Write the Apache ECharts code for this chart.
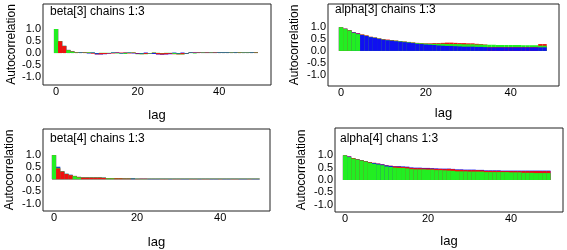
<!DOCTYPE html>
<html>
<head>
<meta charset="utf-8">
<script src="https://cdn.jsdelivr.net/npm/echarts@6/dist/echarts.min.js"></script>
<style>
  html, body { margin: 0; padding: 0; background: #fff; }
  #chart { width: 567px; height: 250px; }
</style>
</head>
<body>
<div id="chart"></div>
<script>
// lags shown in each panel
const lags50 = [0,1,2,3,4,5,6,7,8,9,10,11,12,13,14,15,16,17,18,19,20,21,22,23,24,25,26,27,28,29,30,31,32,33,34,35,36,37,38,39,40,41,42,43,44,45,46,47,48,49];
const lags49 = [0,1,2,3,4,5,6,7,8,9,10,11,12,13,14,15,16,17,18,19,20,21,22,23,24,25,26,27,28,29,30,31,32,33,34,35,36,37,38,39,40,41,42,43,44,45,46,47,48];

const yTicks = [-1, -0.5, 0, 0.5, 1];
const xTicks = [0, 20, 40];

// chain 1 = blue, chain 2 = red, chain 3 = green
const chainColors = ['#1010f0', '#f01010', '#22ee22'];

// beta[3]
const beta3Chain1 = [1.00,0.50,0.30,0.13,0.07,0.03,0.02,0.03,-0.02,0.02,-0.05,-0.06,-0.05,-0.03,0.02,0.03,-0.02,0.02,0.03,-0.02,-0.02,-0.02,0.02,-0.02,-0.04,-0.06,-0.07,-0.06,-0.05,0.02,-0.02,0.02,-0.02,0.02,0.03,0.02,0.03,0.02,0.03,0.02,0.02,0.02,0.02,0.03,0.02,0.03,0.02,0.02,0.02,0.03];
const beta3Chain2 = [1.00,0.49,0.29,0.13,0.07,0.03,0.03,0.02,0.03,-0.03,-0.06,-0.05,-0.04,-0.02,-0.02,0.02,0.02,0.02,-0.02,0.02,-0.04,-0.05,-0.04,-0.03,0.02,-0.05,-0.06,-0.05,-0.03,-0.05,-0.06,-0.05,-0.04,0.03,0.02,0.02,0.02,0.02,0.02,0.02,0.03,0.03,0.03,0.02,0.03,0.03,0.03,0.03,0.03,0.02];
const beta3Chain3 = [1.00,0.50,0.30,0.12,0.06,0.02,0.03,0.03,0.03,0.03,-0.01,0.01,0.01,0.01,0.03,-0.02,-0.03,-0.04,0.02,0.03,-0.05,-0.05,-0.05,-0.02,0.02,0.01,-0.01,0.01,0.01,-0.04,-0.05,-0.06,-0.03,0.03,-0.02,0.03,0.02,0.03,0.02,0.03,0.03,0.03,0.03,0.02,0.03,0.02,0.02,0.02,0.03,0.03];

// alpha[3]
const alpha3Chain1 = [1.00,0.94,0.87,0.78,0.73,0.67,0.63,0.58,0.55,0.51,0.47,0.45,0.43,0.41,0.39,0.37,0.35,0.33,0.30,0.29,0.27,0.26,0.25,0.23,0.22,0.21,0.21,0.20,0.19,0.18,0.18,0.18,0.17,0.17,0.16,0.15,0.15,0.15,0.15,0.15,0.15,0.15,0.15,0.15,0.15,0.15,0.15,0.15,0.15];
const alpha3Chain2 = [1.00,0.94,0.87,0.79,0.75,0.70,0.66,0.60,0.57,0.53,0.50,0.48,0.46,0.44,0.42,0.40,0.38,0.36,0.34,0.33,0.32,0.32,0.33,0.33,0.34,0.35,0.35,0.34,0.33,0.33,0.32,0.32,0.30,0.29,0.27,0.16,0.16,0.16,0.16,0.16,0.16,0.16,0.16,0.16,0.16,0.16,0.16,0.29,0.29];
const alpha3Chain3 = [1.00,0.93,0.86,0.76,0.71,0.68,0.64,0.59,0.56,0.52,0.48,0.46,0.44,0.43,0.41,0.39,0.37,0.35,0.33,0.32,0.31,0.30,0.30,0.30,0.30,0.29,0.29,0.29,0.29,0.28,0.28,0.28,0.27,0.27,0.26,0.26,0.26,0.25,0.25,0.25,0.25,0.25,0.25,0.24,0.24,0.24,0.24,0.22,0.22];

// beta[4]
const beta4Chain1 = [1.00,0.52,0.33,0.23,0.19,0.14,0.10,0.08,0.08,0.08,0.08,0.08,0.07,0.05,0.05,0.05,0.05,0.04,0.04,0.03,0.03,0.03,0.03,0.02,0.02,0.02,0.03,0.03,0.02,0.03,0.03,0.02,0.02,0.03,0.03,0.02,0.03,0.03,0.02,0.02,0.03,0.02,0.02,0.03,0.03,0.02,0.02,0.03,0.02,0.02];
const beta4Chain2 = [1.00,0.45,0.32,0.22,0.17,0.14,0.10,0.07,0.07,0.07,0.07,0.07,0.06,0.05,0.05,0.04,0.04,0.03,0.03,0.04,0.02,0.03,0.03,0.03,0.03,0.03,0.02,0.02,0.03,0.02,0.02,0.03,0.03,0.02,0.02,0.03,0.02,0.02,0.03,0.03,0.02,0.03,0.03,0.02,0.02,0.03,0.03,0.02,0.03,0.03];
const beta4Chain3 = [1.00,0.48,0.33,0.23,0.18,0.13,0.08,0.08,0.08,0.08,0.08,0.08,0.07,0.04,0.04,0.05,0.05,0.04,0.04,0.04,0.03,0.02,0.02,0.03,0.03,0.03,0.03,0.03,0.03,0.03,0.03,0.03,0.03,0.03,0.03,0.03,0.03,0.03,0.03,0.03,0.03,0.03,0.03,0.03,0.03,0.03,0.03,0.03,0.03,0.03];

// alpha[4]
const alpha4Chain1 = [1.00,0.95,0.89,0.85,0.81,0.77,0.73,0.69,0.66,0.63,0.59,0.57,0.56,0.56,0.55,0.54,0.51,0.50,0.50,0.49,0.49,0.48,0.47,0.46,0.46,0.46,0.45,0.43,0.43,0.42,0.42,0.42,0.41,0.41,0.39,0.39,0.39,0.39,0.38,0.38,0.38,0.38,0.38,0.38,0.38,0.38,0.38,0.38,0.38,0.38];
const alpha4Chain2 = [1.00,0.96,0.89,0.84,0.80,0.76,0.72,0.70,0.67,0.64,0.60,0.58,0.55,0.54,0.53,0.52,0.49,0.48,0.48,0.47,0.47,0.46,0.45,0.45,0.44,0.45,0.44,0.41,0.41,0.40,0.40,0.40,0.40,0.39,0.37,0.37,0.37,0.37,0.36,0.36,0.36,0.36,0.36,0.36,0.36,0.36,0.36,0.36,0.36,0.36];
const alpha4Chain3 = [1.00,0.93,0.87,0.83,0.79,0.75,0.70,0.66,0.63,0.60,0.55,0.53,0.50,0.49,0.49,0.47,0.44,0.43,0.43,0.43,0.42,0.42,0.40,0.40,0.39,0.38,0.37,0.35,0.35,0.35,0.34,0.34,0.34,0.34,0.32,0.32,0.32,0.32,0.32,0.32,0.31,0.31,0.31,0.29,0.29,0.29,0.28,0.28,0.28,0.28];

const panels = [
  { title: 'beta[3] chains 1:3', lags: lags50, chains: [beta3Chain1, beta3Chain2, beta3Chain3],
    grid: { left: 43, top: 4, width: 228, height: 81 }, yRange: [-1.33, 2.04], xRange: [-3.2, 52.7],
    titlePos: [50, 6], lagGap: 24, acGap: 25, barW: 4.2 },
  { title: 'alpha[3] chains 1:3', lags: lags49, chains: [alpha3Chain1, alpha3Chain2, alpha3Chain3],
    grid: { left: 328, top: 4, width: 231, height: 82 }, yRange: [-1.48, 1.98], xRange: [-3.07, 51.4],
    titlePos: [335, 4], lagGap: 21, acGap: 27, barW: 4.3 },
  { title: 'beta[4] chains 1:3', lags: lags50, chains: [beta4Chain1, beta4Chain2, beta4Chain3],
    grid: { left: 43, top: 129, width: 227, height: 82 }, yRange: [-1.31, 2.08], xRange: [-2.65, 52.0],
    titlePos: [50, 133], lagGap: 25, acGap: 27, barW: 4.2 },
  { title: 'alpha[4] chans 1:3', lags: lags50, chains: [alpha4Chain1, alpha4Chain2, alpha4Chain3],
    grid: { left: 335, top: 128, width: 228, height: 84 }, yRange: [-1.30, 2.11], xRange: [-2.41, 52.5],
    titlePos: [340, 133], lagGap: 23, acGap: 27, barW: 4.2 }
];

// bars of the 3 chains overlap; the largest is drawn first, the smallest on top
function layers(lags, chains) {
  const out = [[], [], []];
  lags.forEach((lag, i) => {
    const order = [0, 1, 2].sort((a, b) => Math.abs(chains[b][i]) - Math.abs(chains[a][i]) || a - b);
    order.forEach((c, k) => {
      out[k].push({ value: [lag, chains[c][i]], itemStyle: { color: chainColors[c] } });
    });
  });
  return out;
}

const font = 'Liberation Sans';
const textColor = '#000';

const option = {
  animation: false,
  backgroundColor: '#fff',
  title: [],
  grid: [],
  xAxis: [],
  yAxis: [],
  series: []
};

panels.forEach((p, gi) => {
  option.title.push({
    text: p.title, left: p.titlePos[0], top: p.titlePos[1], padding: 0,
    textStyle: { fontFamily: font, fontSize: 12, fontWeight: 'normal', color: textColor }
  });
  option.grid.push(Object.assign({ show: true, borderColor: '#222', borderWidth: 1, backgroundColor: '#fff' }, p.grid));
  option.xAxis.push({
    type: 'value', gridIndex: gi, min: p.xRange[0], max: p.xRange[1],
    name: 'lag', nameLocation: 'middle', nameGap: p.lagGap,
    nameTextStyle: { fontFamily: font, fontSize: 13, color: textColor },
    axisLine: { show: false }, axisTick: { show: false }, splitLine: { show: false },
    axisLabel: { customValues: xTicks, margin: 1, fontFamily: font, fontSize: 11, color: textColor }
  });
  option.yAxis.push({
    type: 'value', gridIndex: gi, min: p.yRange[0], max: p.yRange[1],
    name: 'Autocorrelation', nameLocation: 'middle', nameGap: p.acGap,
    nameTextStyle: { fontFamily: font, fontSize: 12, color: textColor },
    axisLine: { show: false }, axisTick: { show: false }, splitLine: { show: false },
    axisLabel: { customValues: yTicks, margin: 2, fontFamily: font, fontSize: 11, color: textColor,
      formatter: v => v.toFixed(1) }
  });
  layers(p.lags, p.chains).forEach(data => {
    option.series.push({
      type: 'bar', xAxisIndex: gi, yAxisIndex: gi, data: data,
      barWidth: p.barW, barGap: '-100%', silent: true
    });
  });
});

const myChart = echarts.init(document.getElementById('chart'));
myChart.setOption(option);
</script>
</body>
</html>
